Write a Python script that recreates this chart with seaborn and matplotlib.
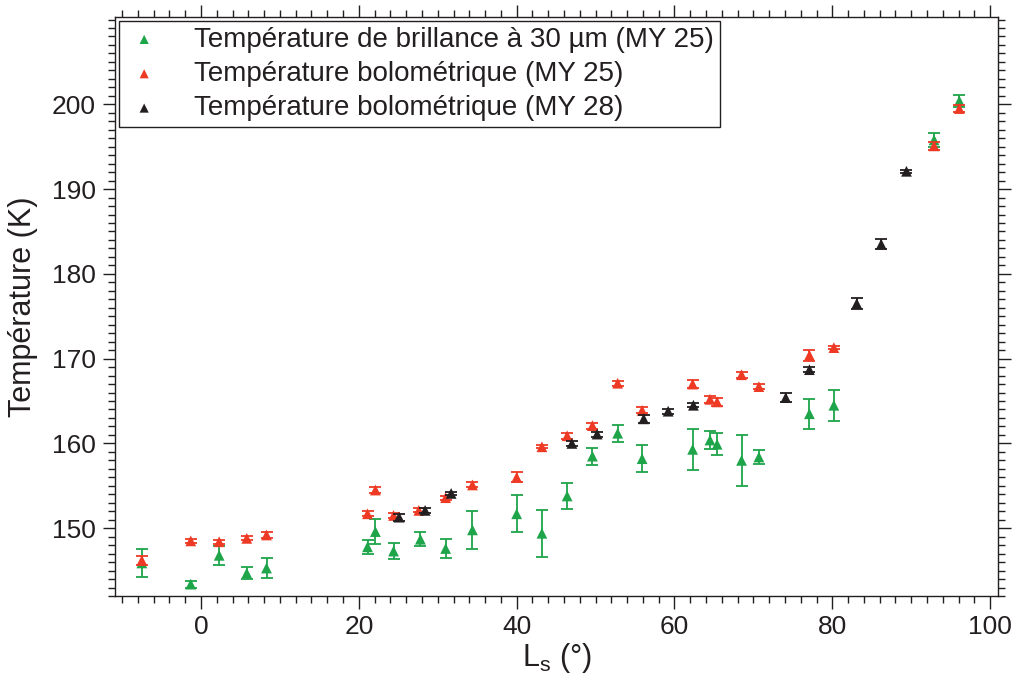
import matplotlib
matplotlib.use('Agg')
import matplotlib.pyplot as plt
from matplotlib.ticker import MultipleLocator
import seaborn as sns

# Température de brillance à 30 µm (MY 25)
ls_brill = [-7.5, -1.3, 2.3, 5.8, 8.3, 21.1, 22.1, 24.4, 27.8, 31.0, 34.4, 40.0, 43.2,
            46.4, 49.6, 52.8, 55.9, 62.3, 64.5, 65.4, 68.5, 70.7, 77.1, 80.2, 92.9, 96.1]
t_brill = [145.9, 143.4, 146.8, 144.7, 145.3, 147.8, 149.6, 147.3, 148.7, 147.6, 149.8, 151.7, 149.4,
           153.8, 158.5, 161.2, 158.2, 159.3, 160.4, 159.9, 158.0, 158.4, 163.5, 164.5, 195.8, 200.4]
err_brill = [1.6, 0.4, 1.1, 0.75, 1.2, 0.8, 1.5, 0.9, 0.8, 1.1, 2.2, 2.2, 2.8,
             1.5, 1.0, 1.0, 1.6, 2.4, 1.1, 1.3, 3.0, 0.85, 1.75, 1.85, 0.8, 0.7]

# Température bolométrique (MY 25)
ls_bolo25 = [-7.5, -1.3, 2.3, 5.8, 8.3, 21.1, 22.1, 24.4, 27.6, 31.0, 34.4, 40.0, 43.2,
             46.4, 49.6, 52.8, 55.9, 62.3, 64.5, 65.4, 68.5, 70.7, 77.1, 80.2, 92.9, 96.1]
t_bolo25 = [146.2, 148.5, 148.4, 148.8, 149.2, 151.7, 154.5, 151.5, 152.1, 153.6, 155.1, 156.0, 159.6,
            160.9, 162.1, 167.1, 163.9, 167.0, 165.2, 164.9, 168.1, 166.7, 170.4, 171.3, 195.1, 199.5]
err_bolo25 = [0.5, 0.2, 0.25, 0.25, 0.3, 0.3, 0.3, 0.3, 0.25, 0.25, 0.3, 0.6, 0.2,
              0.35, 0.35, 0.3, 0.35, 0.5, 0.4, 0.5, 0.35, 0.25, 0.65, 0.2, 0.45, 0.45]

# Température bolométrique (MY 28)
ls_bolo28 = [25.1, 28.4, 31.7, 47.0, 50.2, 56.1, 59.2, 62.4, 74.1, 77.1, 83.1, 86.2, 89.4]
t_bolo28 = [151.3, 152.1, 154.1, 160.0, 161.1, 162.9, 163.8, 164.5, 165.4, 168.7, 176.5, 183.5, 192.1]
err_bolo28 = [0.4, 0.3, 0.2, 0.3, 0.3, 0.5, 0.3, 0.25, 0.5, 0.3, 0.6, 0.6, 0.2]

labels = ['Température de brillance à 30 µm (MY 25)',
          'Température bolométrique (MY 25)',
          'Température bolométrique (MY 28)']
colors = ['#1ea54a', '#ee3a24', '#231f20']

sns.set_theme(style='ticks')
plt.rcParams['font.family'] = ['Liberation Sans', 'DejaVu Sans']
plt.rcParams['axes.edgecolor'] = '#231f20'
plt.rcParams['axes.linewidth'] = 1.0

fig, ax = plt.subplots(figsize=(10.15, 6.8), dpi=100)
fig.subplots_adjust(left=115/1015, right=998/1015, top=1-17/680, bottom=1-596/680)

series = [(ls_brill, t_brill, err_brill), (ls_bolo25, t_bolo25, err_bolo25), (ls_bolo28, t_bolo28, err_bolo28)]
for i, ((x, y, e), lab, col) in enumerate(zip(series, labels, colors)):
    ax.errorbar(x, y, yerr=e, fmt='none', ecolor=col, elinewidth=1.3,
                capsize=4.5, capthick=1.3, zorder=2 + 2*i)
    sns.scatterplot(x=x, y=y, marker='^', color=col, s=60, edgecolor='none',
                    label=lab, ax=ax, zorder=3 + 2*i)

ax.set_xlim(-10.9, 101)
ax.set_ylim(142, 210.3)
ax.xaxis.set_major_locator(MultipleLocator(20))
ax.xaxis.set_minor_locator(MultipleLocator(2))
ax.set_yticks([150, 160, 170, 180, 190, 200])
ax.yaxis.set_minor_locator(MultipleLocator(1))

ax.tick_params(which='both', direction='out', top=True, right=True,
               color='#231f20', labelcolor='#231f20', labelsize=19)
ax.tick_params(which='major', length=9, width=1.0, pad=5)
ax.tick_params(which='minor', length=5, width=1.0)
for s in ax.spines.values():
    s.set_visible(True)

ax.set_xlabel('$\\mathregular{L_s}$ (°)', fontsize=22, color='#231f20', labelpad=1)
ax.set_ylabel('Température (K)', fontsize=22, color='#231f20', labelpad=10)

leg = ax.legend(loc='upper left', fontsize=20, frameon=True, fancybox=False,
                edgecolor='#231f20', framealpha=1, borderaxespad=0.15, borderpad=0.2,
                handlelength=1.4, handletextpad=1.1, labelspacing=0.3, markerscale=0.85)
leg.get_frame().set_linewidth(1.0)
for t in leg.get_texts():
    t.set_color('#231f20')

fig.savefig('out.png', dpi=100)
